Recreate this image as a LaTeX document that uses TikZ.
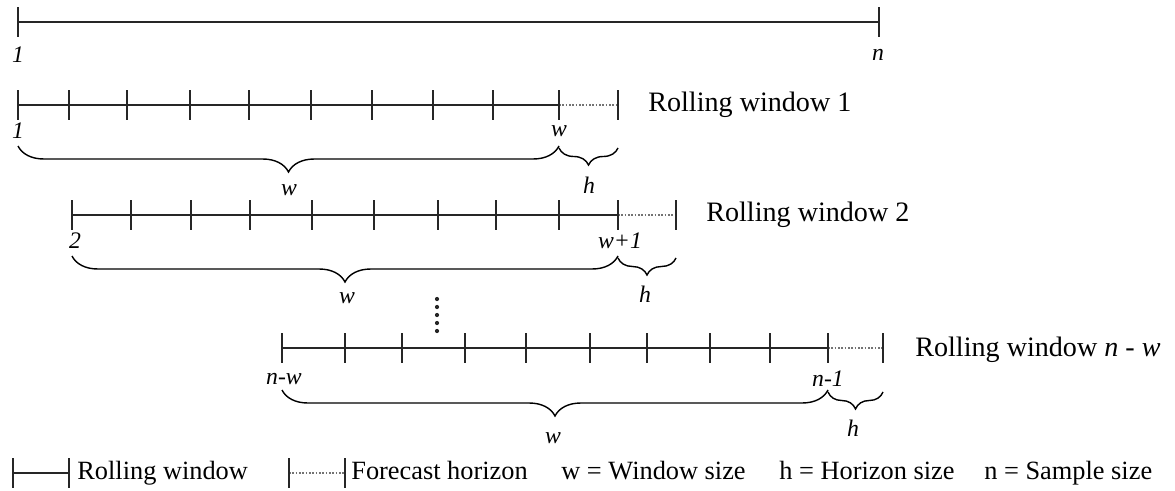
\documentclass[tikz,border=0pt]{standalone}
\usepackage{fontspec}
\setmainfont{Liberation Serif}
\usetikzlibrary{decorations.pathreplacing}

\begin{document}
\begin{tikzpicture}[x=0.02cm, y=-0.02cm,
    line/.style={line width=0.9pt, color=black!85},
    horizon/.style={line width=0.9pt, densely dotted, color=black!55},
    bigbrace/.style={decorate, decoration={brace, mirror, amplitude=0.52cm}, line width=0.8pt},
    smallbrace/.style={decorate, decoration={brace, mirror, amplitude=0.34cm}, line width=0.8pt},
    lab/.style={font=\fontsize{13.5}{16}\selectfont\itshape, inner sep=0pt},
    title/.style={font=\fontsize{16}{19}\selectfont, anchor=west, inner sep=0pt},
    key/.style={font=\fontsize{15}{18}\selectfont, anchor=base west, inner sep=0pt}]
    \useasboundingbox (0,0) rectangle (1175,490);

    % whole sample
    \coordinate (s0) at (18,22);
    \coordinate (e0) at (879,22);
    \draw[line] (s0) -- (e0);
    \foreach \x in {18,879} \draw[line] (\x,7) -- (\x,37);
    \node[lab] (one0) at (18,55) {1};
    \node[lab] (n0) at (878,55) {n};

    % rolling window 1
    \coordinate (s1) at (18,105);
    \coordinate (w1) at (559,105);
    \coordinate (e1) at (618,105);
    \draw[line] (s1) -- (w1);
    \draw[horizon] (w1) -- (e1);
    \foreach \x in {18,69,127,190,249,311,372,433,493,559,618} \draw[line] (\x,90) -- (\x,120);
    \node[title] (t1) at (648,105) {Rolling window 1};
    \node[lab] (a1) at (18,131) {1};
    \node[lab] (b1) at (559,131) {w};
    \draw[bigbrace] (18,146) -- (559,146);
    \draw[smallbrace] (559,148) -- (618,148);
    \node[lab] (bw1) at (289,190) {w};
    \node[lab] (bh1) at (589,185) {h};

    % rolling window 2
    \coordinate (s2) at (72,215);
    \coordinate (w2) at (618,215);
    \coordinate (e2) at (676,215);
    \draw[line] (s2) -- (w2);
    \draw[horizon] (w2) -- (e2);
    \foreach \x in {72,131,191,250,312,374,438,496,559,618,676} \draw[line] (\x,200) -- (\x,230);
    \node[title] (t2) at (706,215) {Rolling window 2};
    \node[lab] (a2) at (75,241) {2};
    \node[lab] (b2) at (620,241) {w+1};
    \draw[bigbrace] (72,256) -- (618,256);
    \draw[smallbrace] (618,258) -- (676,258);
    \node[lab] (bw2) at (347,298) {w};
    \node[lab] (bh2) at (645,294) {h};

    % vertical dots
    \foreach \y in {299,307,315,323,331} \fill[black!85] (437,\y) circle (1.2pt);

    % rolling window n - w
    \coordinate (s3) at (282,348);
    \coordinate (w3) at (828,348);
    \coordinate (e3) at (883,348);
    \draw[line] (s3) -- (w3);
    \draw[horizon] (w3) -- (e3);
    \foreach \x in {282,345,402,465,526,590,647,710,770,828,883} \draw[line] (\x,333) -- (\x,363);
    \node[title] (t3) at (915,350) {Rolling window \textit{n} - \textit{w}};
    \node[lab] (a3) at (284,379) {n-w};
    \node[lab] (b3) at (828,379) {n-1};
    \draw[bigbrace] (282,390) -- (828,390);
    \draw[smallbrace] (828,392) -- (883,392);
    \node[lab] (bw3) at (553,438) {w};
    \node[lab] (bh3) at (853,428) {h};

    % legend
    \coordinate (k1a) at (13,473);
    \coordinate (k1b) at (69,473);
    \draw[line] (k1a) -- (k1b);
    \foreach \x in {13,69} \draw[line] (\x,458) -- (\x,488);
    \node[key] (k1) at (77,479) {Rolling window};
    \coordinate (k2a) at (289,473);
    \coordinate (k2b) at (345,473);
    \draw[horizon] (k2a) -- (k2b);
    \foreach \x in {289,345} \draw[line] (\x,458) -- (\x,488);
    \node[key] (k2) at (351,479) {Forecast horizon};
    \node[key] (k3) at (561,479) {w = Window size};
    \node[key] (k4) at (779,479) {h = Horizon size};
    \node[key] (k5) at (984,479) {n = Sample size};
\end{tikzpicture}
\end{document}
